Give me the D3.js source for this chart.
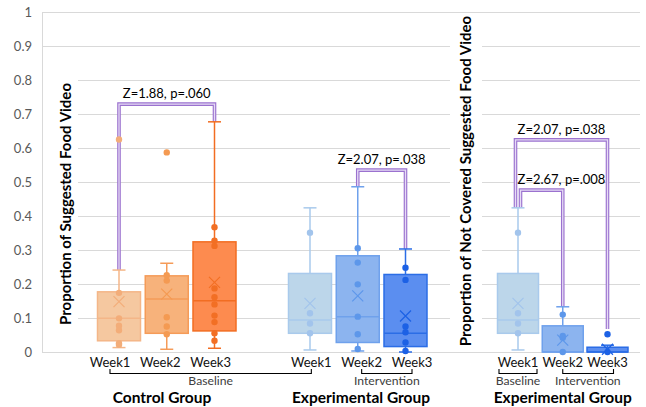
<!DOCTYPE html>
<meta charset="utf-8">
<style>
body { margin: 0; background: #fff; }
svg text { font-family: Lato, "Liberation Sans", sans-serif; }
.grid line { stroke: #d9d9d9; stroke-width: 1; }
.tick text { fill: #595959; font-size: 13px; }
.wk { font-size: 13px; fill: #111; text-anchor: middle; }
.phase { font-size: 12.2px; fill: #404040; text-anchor: middle; }
.grp { font-size: 15.5px; font-weight: bold; fill: #000; text-anchor: middle; }
.ytitle { font-size: 15px; font-weight: bold; fill: #000; text-anchor: middle; }
.note { font-size: 13px; fill: #000; text-anchor: middle; }
</style>
<svg width="646" height="407"></svg>
<script src="https://cdn.jsdelivr.net/npm/d3@7"></script>
<script>
// ---- data ----
var yTicks = [0, 0.1, 0.2, 0.3, 0.4, 0.5, 0.6, 0.7, 0.8, 0.9, 1];

// left panel: control weeks 1-3, an empty slot, experimental weeks 1-3
var leftSlots  = ["C1", "C2", "C3", "", "E1", "E2", "E3"];
var leftSeries = ["C1", "C2", "C3", "E1", "E2", "E3"];
var leftLabels = ["Week1", "Week2", "Week3", "", "Week1", "Week2", "Week3"];
var leftQ1     = [0.033, 0.055, 0.062, 0.055, 0.028, 0.016];
var leftMedian = [0.099, 0.156, 0.151, 0.094, 0.104, 0.055];
var leftQ3     = [0.177, 0.224, 0.324, 0.231, 0.283, 0.228];
var leftLo     = [0.013, 0.008, 0.011, 0.006, 0.003, 0.0];
var leftHi     = [0.241, 0.261, 0.677, 0.424, 0.486, 0.303];
var leftMean   = [0.148, 0.170, 0.205, 0.143, 0.165, 0.106];
var leftPoints = [
  [0.625, 0.174, 0.099, 0.077, 0.064, 0.026, 0.021],
  [0.587, 0.226, 0.210, 0.102, 0.075, 0.052],
  [0.367, 0.327, 0.312, 0.187, 0.161, 0.140, 0.107, 0.088, 0.055, 0.033],
  [0.351, 0.114, 0.084, 0.055],
  [0.305, 0.263, 0.199, 0.104, 0.052, 0.009],
  [0.248, 0.212, 0.075, 0.058, 0.028, 0.003]
];

// right panel: experimental group, not covered videos
var rightSeries = ["Week1", "Week2", "Week3"];
var rightQ1     = [0.055, 0.0, 0.0];
var rightMedian = [0.094, 0.0, 0.0];
var rightQ3     = [0.231, 0.077, 0.014];
var rightLo     = [0.006, 0.0, 0.0];
var rightHi     = [0.424, 0.133, 0.020];
var rightMean   = [0.143, 0.035, 0.008];
var rightPoints = [
  [0.351, 0.114, 0.084, 0.055],
  [0.110, 0.047, 0.042, 0.0],
  [0.052, 0.0]
];

var fills   = ["#f5c8a0", "#f7b27b", "#fd8b4f", "#bcd6ea", "#8cb4ef", "#5b8ef0"];
var strokes = ["#f4b688", "#f59b58", "#f26d22", "#a9caec", "#6fa1ec", "#2b6de6"];
var dots    = ["#f3ad79", "#f49a52", "#f26f24", "#a2c4ec", "#5d97ea", "#1c61e5"];

// significance brackets: [from, to, top, fromEnd, toEnd, label]
var leftNotes = [
  ["C1", "C3", 0.729, 0.241, 0.677, "Z=1.88, p=.060"],
  ["E2", "E3", 0.535, 0.486, 0.303, "Z=2.07, p=.038"]
];
var rightNotes = [
  ["Week1", "Week3", 0.624, 0.424, 0.068, "Z=2.07, p=.038"],
  ["Week1", "Week2", 0.476, 0.424, 0.133, "Z=2.67, p=.008"]
];

// ---- chart ----
var svg = d3.select("svg");

var y = d3.scaleLinear().domain([0, 1]).range([352, 12]);
var xBox = d3.scalePoint().domain(leftSlots).range([119, 405.5]);
var xLab = d3.scalePoint().domain(leftSlots).range([110, 412]);
var xR = d3.scalePoint().domain(rightSeries).range([518, 607.5]);

// gridlines across both panels
svg.append("g")
    .attr("class", "grid")
  .selectAll("line")
  .data(yTicks)
  .enter().append("line")
    .attr("x1", 42).attr("x2", 640)
    .attr("y1", function(d) { return Math.round(y(d)) + 0.5; })
    .attr("y2", function(d) { return Math.round(y(d)) + 0.5; });

svg.append("line")
    .attr("x1", 42.5).attr("x2", 42.5)
    .attr("y1", y(1)).attr("y2", y(0))
    .style("stroke", "#d9d9d9");

var yAxis = svg.append("g")
    .attr("transform", "translate(42,0)")
    .call(d3.axisLeft(y).tickValues(yTicks).tickSize(0).tickPadding(10)
      .tickFormat(function(d) { return d3.format("~g")(d); }));
yAxis.select(".domain").remove();

// white panels behind the y titles (they hide the gridlines)
svg.append("rect").attr("x", 43).attr("y", 74).attr("width", 35).attr("height", 266).style("fill", "#fff");
svg.append("rect").attr("x", 450).attr("y", 15).attr("width", 32).attr("height", 334).style("fill", "#fff");

svg.append("text")
    .attr("class", "ytitle")
    .attr("transform", "translate(71,204) rotate(-90)")
    .text("Proportion of Suggested Food Video");
svg.append("text")
    .attr("class", "ytitle")
    .attr("transform", "translate(471,181) rotate(-90)")
    .text("Proportion of Not Covered Suggested Food Video");

// brackets (drawn under the boxes)
function bracket(g, x1, x2, top, e1, e2, label, lx) {
  var d = "M" + x1 + "," + y(e1) + "V" + y(top) + "H" + x2 + "V" + y(e2);
  g.append("path").attr("d", d)
      .style("fill", "none").style("stroke", "#9b72cf").style("stroke-width", 3.6);
  g.append("path").attr("d", d)
      .style("fill", "none").style("stroke", "#e6dbf5").style("stroke-width", 1.3);
  g.append("text").attr("class", "note")
      .attr("x", lx).attr("y", y(top) - 6)
      .text(label);
}

var notes = svg.append("g");
leftNotes.forEach(function(n) {
  var x1 = xBox(n[0]), x2 = xBox(n[1]);
  bracket(notes, x1, x2, n[2], n[3], n[4], n[5], (x1 + x2) / 2);
});
rightNotes.forEach(function(n, i) {
  var off = i === 0 ? -2.5 : 2.5;
  var x1 = xR(n[0]) + off, x2 = xR(n[1]);
  bracket(notes, x1, x2, n[2], n[3], n[4], n[5], (xR("Week1") - 2.5 + xR("Week3")) / 2);
});

function drawBox(g, cx, bw, s) {
  var cap = 13;
  g.append("line").attr("x1", cx).attr("x2", cx).attr("y1", y(s.q3)).attr("y2", y(s.hi))
      .style("stroke", s.stroke).style("stroke-width", 1.5);
  g.append("line").attr("x1", cx).attr("x2", cx).attr("y1", y(s.q1)).attr("y2", y(s.lo))
      .style("stroke", s.stroke).style("stroke-width", 1.5);
  [s.hi, s.lo].forEach(function(v) {
    g.append("line").attr("x1", cx - cap / 2).attr("x2", cx + cap / 2)
        .attr("y1", y(v)).attr("y2", y(v))
        .style("stroke", s.stroke).style("stroke-width", 1.5);
  });
  g.append("rect")
      .attr("x", cx - bw / 2).attr("y", y(s.q3))
      .attr("width", bw).attr("height", Math.max(1, y(s.q1) - y(s.q3)))
      .style("fill", s.fill).style("stroke", s.stroke).style("stroke-width", 1.5);
  g.append("line").attr("x1", cx - bw / 2).attr("x2", cx + bw / 2)
      .attr("y1", y(s.med)).attr("y2", y(s.med))
      .style("stroke", s.stroke).style("stroke-width", 1.5);
  g.selectAll(null).data(s.pts).enter().append("circle")
      .attr("cx", cx).attr("cy", function(d) { return y(d); })
      .attr("r", 3.2)
      .style("fill", s.dot);
  var m = 5.5;
  g.append("path")
      .attr("d", "M" + (cx - m) + "," + (y(s.mean) - m) + "L" + (cx + m) + "," + (y(s.mean) + m) +
                 "M" + (cx + m) + "," + (y(s.mean) - m) + "L" + (cx - m) + "," + (y(s.mean) + m))
      .style("stroke", s.dot).style("stroke-width", 1.2).style("fill", "none");
}

var boxes = svg.append("g");
leftSeries.forEach(function(k, i) {
  drawBox(boxes, xBox(k), 43, {
    q1: leftQ1[i], med: leftMedian[i], q3: leftQ3[i], lo: leftLo[i], hi: leftHi[i],
    mean: leftMean[i], pts: leftPoints[i], fill: fills[i], stroke: strokes[i], dot: dots[i]
  });
});
rightSeries.forEach(function(k, i) {
  drawBox(boxes, xR(k), 41, {
    q1: rightQ1[i], med: rightMedian[i], q3: rightQ3[i], lo: rightLo[i], hi: rightHi[i],
    mean: rightMean[i], pts: rightPoints[i], fill: fills[i + 3], stroke: strokes[i + 3], dot: dots[i + 3]
  });
});

// category labels
svg.append("g").selectAll("text")
  .data(leftSlots.filter(function(d) { return d; }))
  .enter().append("text")
    .attr("class", "wk")
    .attr("x", function(d) { return xLab(d); })
    .attr("y", 367)
    .text(function(d) { return leftLabels[leftSlots.indexOf(d)]; });
svg.append("g").selectAll("text")
  .data(rightSeries)
  .enter().append("text")
    .attr("class", "wk")
    .attr("x", function(d) { return xR(d); })
    .attr("y", 367)
    .text(function(d) { return d; });

// phase brackets under the week labels
function phase(x1, x2, label, lx) {
  svg.append("path")
      .attr("d", "M" + x1 + ",369V373.5H" + x2 + "V369")
      .style("fill", "none").style("stroke", "#000").style("stroke-width", 1.1);
  svg.append("text").attr("class", "phase").attr("x", lx).attr("y", 384.5).text(label);
}
phase(xLab("C1"), xLab("E1"), "Baseline", (xLab("C1") + xLab("E1")) / 2);
phase(xLab("E2"), xLab("E3"), "Intervention", (xLab("E2") + xLab("E3")) / 2);
phase(xR("Week1") - 19, xR("Week1") + 19, "Baseline", xR("Week1"));
phase(xR("Week2"), xR("Week3") + 6, "Intervention", xR("Week2") + 25);

svg.append("text").attr("class", "grp").attr("x", 162).attr("y", 403).text("Control Group");
svg.append("text").attr("class", "grp").attr("x", 361).attr("y", 403).text("Experimental Group");
svg.append("text").attr("class", "grp").attr("x", xR("Week2")).attr("y", 403).text("Experimental Group");
</script>
